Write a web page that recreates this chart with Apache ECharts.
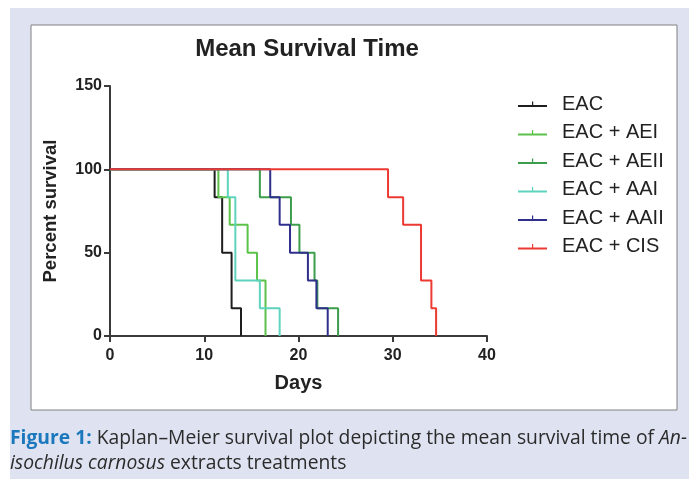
<!DOCTYPE html>
<html>
<head>
<meta charset="utf-8">
<script src="https://cdn.jsdelivr.net/npm/echarts@6/dist/echarts.min.js"></script>
<style>
html,body{margin:0;padding:0;background:#fff;}
#c{width:689px;height:479px;}
</style>
</head>
<body>
<div id="c"></div>
<script>
// ---- data (Kaplan–Meier steps: day of event, percent surviving after it) ----
const seriesNames = ['EAC', 'EAC + AEI', 'EAC + AEII', 'EAC + AAI', 'EAC + AAII', 'EAC + CIS'];
const daysEAC   = [0, 11.1, 11.9, 12.9, 13.9];
const survEAC   = [100, 83.3, 50, 16.7, 0];
const daysAEI   = [0, 11.5, 12.7, 14.6, 15.6, 16.5];
const survAEI   = [100, 83.3, 66.7, 50, 33.3, 0];
const daysAEII  = [0, 15.9, 19.2, 20.1, 21.7, 22.0, 24.2];
const survAEII  = [100, 83.3, 66.7, 50, 33.3, 16.7, 0];
const daysAAI   = [0, 12.5, 13.3, 15.9, 18.0];
const survAAI   = [100, 83.3, 33.3, 16.7, 0];
const daysAAII  = [0, 17.0, 18.0, 19.1, 21.0, 21.9, 23.1];
const survAAII  = [100, 83.3, 66.7, 50, 33.3, 16.7, 0];
const daysCIS   = [0, 29.5, 31.1, 33.0, 34.1, 34.6];
const survCIS   = [100, 83.3, 66.7, 33.3, 16.7, 0];
const xTicks = [0, 10, 20, 30, 40];
const yTicks = [0, 50, 100, 150];

const colors = ['#1e1e1e', '#5cc24a', '#3c9e4c', '#5ed3bd', '#2f2f8c', '#ec3a33'];
const allDays = [daysEAC, daysAEI, daysAEII, daysAAI, daysAAII, daysCIS];
const allSurv = [survEAC, survAEI, survAEII, survAAI, survAAII, survCIS];

const pair = (d, s) => d.map((v, i) => [v, s[i]]);
const legendIcon = 'path://M0,0 M29,14 M0,8 L29,8 L29,10 L0,10 Z M14,4.5 L15.2,4.5 L15.2,10 L14,10 Z';

const chart = echarts.init(document.getElementById('c'), null, {renderer: 'canvas'});
const FONT = 'Liberation Sans, Arial, sans-serif';

const option = {
  animation: false,
  backgroundColor: '#ffffff',
  graphic: [
    {type: 'rect', z: -10, silent: true, shape: {x: 10, y: 8, width: 679, height: 471}, style: {fill: '#dfe3f1'}},
    {type: 'rect', z: -9, silent: true, shape: {x: 31, y: 25, width: 646, height: 385}, style: {fill: '#ffffff', stroke: '#808080', lineWidth: 1}},
    {type: 'text', left: 10, top: 426, style: {
      text: '{b|Figure 1:} Kaplan–Meier survival plot depicting the mean survival time of {i|An-}\n{i|isochilus carnosus} extracts treatments',
      font: '19.3px "Open Sans", sans-serif', fill: '#2b2b2b', lineHeight: 25,
      rich: {
        b: {font: 'bold 19.3px "Open Sans", sans-serif', fill: '#1b78bd', lineHeight: 25},
        i: {font: 'italic 19.3px "Open Sans", sans-serif', fill: '#2b2b2b', lineHeight: 25}
      }
    }}
  ],
  title: {
    text: 'Mean Survival Time',
    left: 302, top: 32, textAlign: 'center',
    textStyle: {fontFamily: FONT, fontWeight: 'bold', fontSize: 24, color: '#222'}
  },
  legend: {
    orient: 'vertical',
    left: 513, top: 89,
    itemWidth: 29, itemHeight: 14, itemGap: 8.5,
    symbolKeepAspect: false,
    icon: legendIcon,
    data: seriesNames,
    textStyle: {fontFamily: FONT, fontSize: 20, lineHeight: 20, color: '#222', padding: [0, 0, 0, 10]}
  },
  grid: {left: 110, right: 202, top: 86, bottom: 143, containLabel: false},
  xAxis: {
    type: 'value', min: xTicks[0], max: xTicks[xTicks.length - 1], interval: 10,
    name: 'Days', nameLocation: 'middle', nameGap: 37,
    nameTextStyle: {fontFamily: FONT, fontWeight: 'bold', fontSize: 20, color: '#222'},
    axisLine: {show: true, onZero: false, lineStyle: {color: '#3a3a3a', width: 2}},
    axisTick: {show: true, length: 6, lineStyle: {color: '#3a3a3a', width: 2}},
    axisLabel: {fontFamily: FONT, fontWeight: 'bold', fontSize: 16, color: '#222', margin: 12},
    splitLine: {show: false}
  },
  yAxis: {
    type: 'value', min: yTicks[0], max: yTicks[yTicks.length - 1], interval: 50,
    name: 'Percent survival', nameLocation: 'middle', nameGap: 50, nameRotate: 90,
    nameTextStyle: {fontFamily: FONT, fontWeight: 'bold', fontSize: 18.5, color: '#222'},
    axisLine: {show: true, onZero: false, lineStyle: {color: '#3a3a3a', width: 2}},
    axisTick: {show: true, length: 6, lineStyle: {color: '#3a3a3a', width: 2}},
    axisLabel: {fontFamily: FONT, fontWeight: 'bold', fontSize: 16, color: '#222', margin: 8},
    splitLine: {show: false}
  },
  series: seriesNames.map((name, k) => ({
    name: name,
    type: 'line',
    step: 'end',
    data: pair(allDays[k], allSurv[k]),
    showSymbol: false,
    symbol: 'none',
    color: colors[k],
    lineStyle: {color: colors[k], width: 2},
    z: 2 + k
  }))
};
chart.setOption(option);
</script>
</body>
</html>
